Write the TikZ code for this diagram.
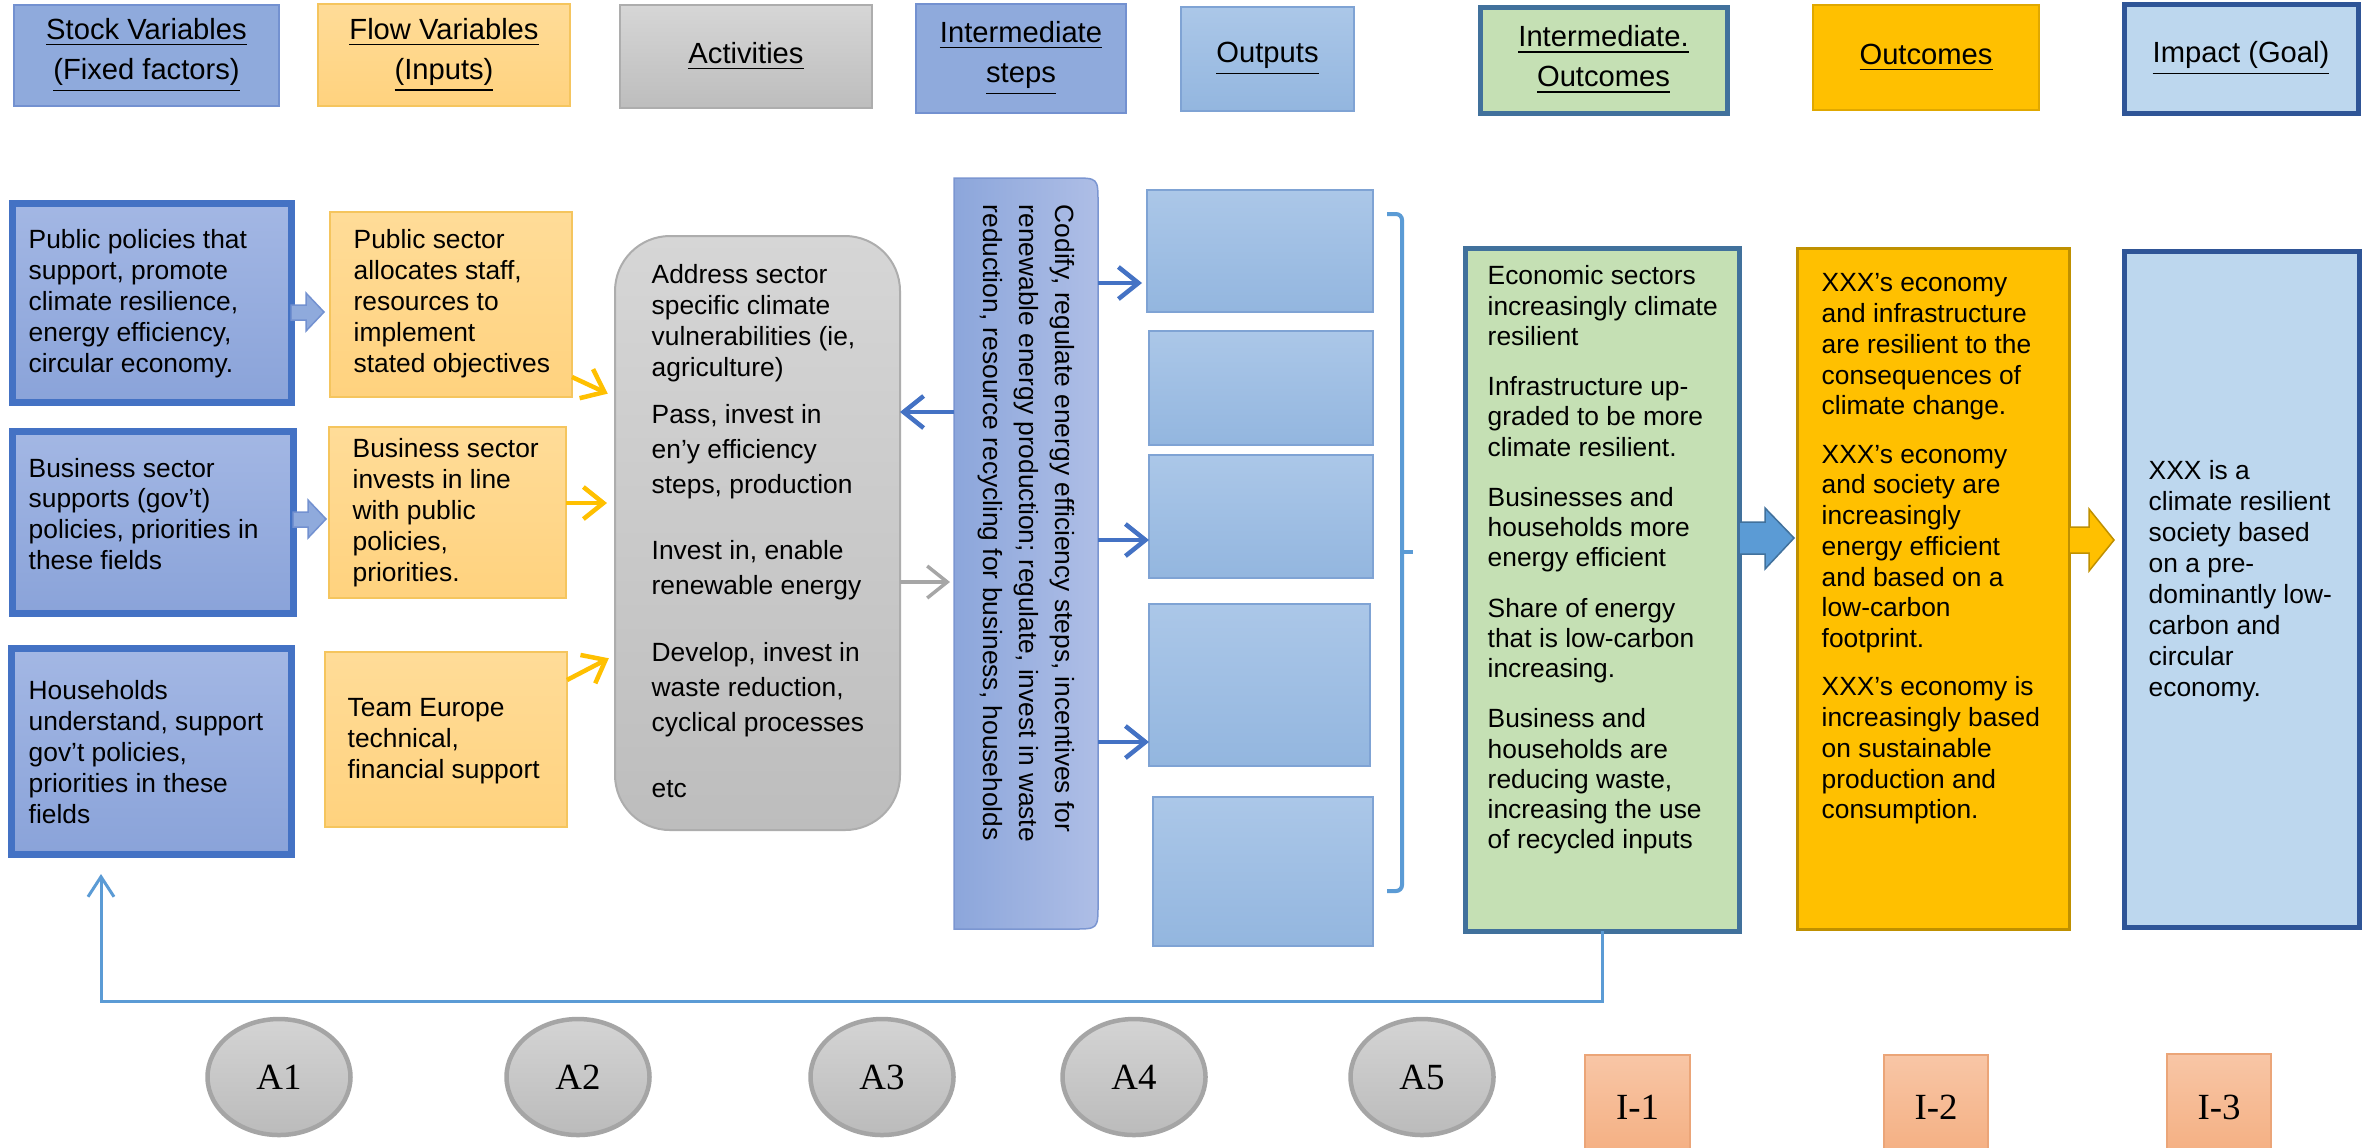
\documentclass[tikz,border=0pt]{standalone}
\usepackage{fontspec}
\setmainfont{Liberation Sans}
\newfontfamily\lblserif{Liberation Serif}
\usetikzlibrary{arrows.meta,fit,shapes.geometric,calc}
\definecolor{stockL}{HTML}{A3B7E4}
\definecolor{stockD}{HTML}{8AA3D9}
\definecolor{stockB}{HTML}{4472C4}
\definecolor{hstock}{HTML}{8FAADC}
\definecolor{hstockB}{HTML}{7391D0}
\definecolor{flowL}{HTML}{FFDC98}
\definecolor{flowD}{HTML}{FFD27E}
\definecolor{flowB}{HTML}{F5C55E}
\definecolor{actL}{HTML}{D6D6D6}
\definecolor{actD}{HTML}{BDBDBD}
\definecolor{actB}{HTML}{ADADAD}
\definecolor{stepsL}{HTML}{8CA6DB}
\definecolor{stepsR}{HTML}{AEBEE6}
\definecolor{stepsB}{HTML}{7B96D1}
\definecolor{outL}{HTML}{ABC7E8}
\definecolor{outD}{HTML}{93B6DF}
\definecolor{outB}{HTML}{7FA3D4}
\definecolor{greenF}{HTML}{C5E0B4}
\definecolor{tealB}{HTML}{41719C}
\definecolor{gold}{HTML}{FFC000}
\definecolor{goldB}{HTML}{BF9000}
\definecolor{goldH}{HTML}{E0A800}
\definecolor{impF}{HTML}{BDD7EE}
\definecolor{impB}{HTML}{2F5597}
\definecolor{arrBlue}{HTML}{4472C4}
\definecolor{arrGray}{HTML}{A6A6A6}
\definecolor{brk}{HTML}{5B9BD5}
\definecolor{ovalL}{HTML}{D4D4D4}
\definecolor{ovalD}{HTML}{BBBBBB}
\definecolor{ovalB}{HTML}{A5A5A5}
\definecolor{iL}{HTML}{F8C6A6}
\definecolor{iD}{HTML}{F4AE80}
\definecolor{iB}{HTML}{EBA578}
\begin{document}
\begin{tikzpicture}[x=0.1mm,y=-0.1mm,
  box/.style={inner sep=0pt, outer sep=0pt},
  hdr/.style={box, line width=0.2mm},
  hdrtxt/.style={inner sep=0pt, align=center, font=\fontsize{8.3}{11.4}\selectfont},
  txt/.style={inner sep=0pt, align=left, font=\fontsize{7.5}{8.8}\selectfont, anchor=west},
  stockbox/.style={box, draw=stockB, line width=0.7mm, top color=stockL, bottom color=stockD},
  flowbox/.style={box, draw=flowB, line width=0.2mm, top color=flowL, bottom color=flowD},
  outbox/.style={box, draw=outB, line width=0.2mm, top color=outL, bottom color=outD},
  blockarr/.style={fill=hstock, draw=hstockB, line width=0.15mm},
  thinarr/.style={line width=0.45mm, -{Straight Barb[length=2mm,width=3.2mm]}},
  yarr/.style={thinarr, draw=gold},
  barr/.style={thinarr, draw=arrBlue},
  garr/.style={thinarr, draw=arrGray, line width=0.35mm},
  fb/.style={draw=brk, line width=0.3mm, -{Straight Barb[length=2mm,width=2.6mm]}},
  bracketline/.style={draw=brk, line width=0.4mm, rounded corners=0.6mm},
  oval/.style={ellipse, draw=ovalB, line width=0.45mm, top color=ovalL, bottom color=ovalD,
    minimum width=14.3mm, minimum height=11.6mm, inner sep=0pt,
    font=\lblserif\fontsize{10.5}{12}\selectfont},
  ibox/.style={box, draw=iB, line width=0.15mm, top color=iL, bottom color=iD},
  itxt/.style={inner sep=0pt, font=\lblserif\fontsize{10.5}{12}\selectfont}
]
\useasboundingbox (0,0) rectangle (2369,1147);
\clip (0,0) rectangle (2369,1147);
\fill[white] (0,0) rectangle (2369,1147);

% ---------- header row ----------
\node[hdr, fill=hstock, draw=hstockB, fit={(14,5)(279,106)}] (hStock) {};
\node[hdrtxt] (hStockt) at (hStock.center) {\underline{Stock Variables}\\\underline{(Fixed factors)}};
\node[hdr, top color=flowL, bottom color=flowD, draw=flowB, fit={(318,4)(570,106)}] (hFlow) {};
\node[hdrtxt] (hFlowt) at (hFlow.center) {\underline{Flow Variables}\\\underline{(Inputs)}};
\node[hdr, top color=actL, bottom color=actD, draw=actB, fit={(620,5)(872,108)}] (hAct) {};
\node[hdrtxt] (hActt) at (hAct.center) {\underline{Activities}};
\node[hdr, fill=hstock, draw=hstockB, fit={(916,4)(1126,113)}] (hSteps) {};
\node[hdrtxt] (hStepst) at (hSteps.center) {\underline{Intermediate}\\\underline{steps}};
\node[hdr, top color=outL, bottom color=outD, draw=outB, fit={(1181,7)(1354,111)}] (hOut) {};
\node[hdrtxt] (hOutt) at (hOut.center) {\underline{Outputs}};
\node[hdr, fill=greenF, draw=tealB, line width=0.5mm, fit={(1480,7)(1727,113)}] (hInter) {};
\node[hdrtxt] (hIntert) at (hInter.center) {\underline{Intermediate.}\\\underline{Outcomes}};
\node[hdr, fill=gold, draw=goldH, fit={(1813,5)(2039,110)}] (hOutc) {};
\node[hdrtxt] (hOutct) at (hOutc.center) {\underline{Outcomes}};
\node[hdr, fill=impF, draw=impB, line width=0.5mm, fit={(2124,4)(2358,113)}] (hImp) {};
\node[hdrtxt] (hImpt) at (hImp.center) {\underline{Impact (Goal)}};

% ---------- stock variables ----------
\node[stockbox, fit={(12,203)(291,402)}] (stock1) {};
\node[txt] (stock1t) at (28,304) {Public policies that\\support, promote\\climate resilience,\\energy efficiency,\\circular economy.};
\node[stockbox, fit={(12,431)(293,613)}] (stock2) {};
\node[txt] (stock2t) at (28,514) {Business sector\\supports (gov’t)\\policies, priorities in\\these fields};
\node[stockbox, fit={(11,648)(291,854)}] (stock3) {};
\node[txt] (stock3t) at (28,752) {Households\\understand, support\\gov’t policies,\\priorities in these\\fields};

% ---------- flow variables ----------
\node[flowbox, fit={(330,212)(572,397)}] (flow1) {};
\node[txt] (flow1t) at (353,304) {Public sector\\allocates staff,\\resources to\\implement\\stated objectives};
\node[flowbox, fit={(329,427)(566,598)}] (flow2) {};
\node[txt] (flow2t) at (352,513) {Business sector\\invests in line\\with public\\policies,\\priorities.};
\node[flowbox, fit={(325,652)(567,827)}] (flow3) {};
\node[txt] (flow3t) at (347,741) {Team Europe\\technical,\\financial support};

% block arrows stock -> flow
\path[blockarr] (291,305) -- (306,305) -- (306,293) -- (324,312) -- (306,331) -- (306,320) -- (291,320) -- cycle;
\path[blockarr] (293,512) -- (308,512) -- (308,500) -- (326,519) -- (308,538) -- (308,527) -- (293,527) -- cycle;

% ---------- activities ----------
\node[box, draw=actB, line width=0.2mm, top color=actL, bottom color=actD, rounded corners=5.5mm,
  fit={(615,236)(900,830)}] (act) {};
\node[txt] (act1) at (651,323.5) {Address sector\\specific climate\\vulnerabilities (ie,\\agriculture)};
\node[txt, font=\fontsize{7.5}{10}\selectfont] (act2) at (651,452) {Pass, invest in\\en’y efficiency\\steps, production};
\node[txt, font=\fontsize{7.5}{10}\selectfont] (act3) at (651,570) {Invest in, enable\\renewable energy};
\node[txt, font=\fontsize{7.5}{10}\selectfont] (act4) at (651,689.5) {Develop, invest in\\waste reduction,\\cyclical processes};
\node[txt] (act5) at (651,789) {etc};

% ---------- intermediate steps ----------
\node[box, fit={(954,178)(1098,929)}] (steps) {};
\path[left color=stepsL, right color=stepsR, draw=stepsB, line width=0.15mm]
  (954,178) -- (1073,178) .. controls (1098,178) .. (1098,203) -- (1098,904)
  .. controls (1098,929) .. (1073,929) -- (954,929) -- cycle;
\node[txt, rotate=-90, font=\fontsize{7.5}{10.2}\selectfont] (stepst) at (1026.5,204)
  {Codify, regulate energy efficiency steps, incentives for\\renewable energy production; regulate, invest in waste\\reduction, resource recycling for business, households};

% ---------- outputs ----------
\node[outbox, fit={(1147,190)(1373,312)}] (out1) {};
\node[outbox, fit={(1149,331)(1373,445)}] (out2) {};
\node[outbox, fit={(1149,455)(1373,578)}] (out3) {};
\node[outbox, fit={(1149,604)(1370,766)}] (out4) {};
\node[outbox, fit={(1153,797)(1373,946)}] (out5) {};
\coordinate (brTop) at (1387,214);
\coordinate (brBot) at (1387,891);
\draw[bracketline] (brTop) -- (1402,214) -- (1402,891) -- (brBot);
\draw[bracketline] (1402,552) -- (1413,552);

% ---------- intermediate outcomes / outcomes / impact ----------
\node[box, fill=greenF, draw=tealB, line width=0.5mm, fit={(1465,248)(1739,931)}] (green) {};
\node[txt, font=\fontsize{7.5}{8.6}\selectfont] (greent) at (1487,560)
  {Economic sectors\\increasingly climate\\resilient\\[5.7pt]Infrastructure up-\\graded to be more\\climate resilient.\\[5.7pt]Businesses and\\households more\\energy efficient\\[5.7pt]Share of energy\\that is low-carbon\\increasing.\\[5.7pt]Business and\\households are\\reducing waste,\\increasing the use\\of recycled inputs};
\node[box, fill=gold, draw=goldB, line width=0.3mm, fit={(1797,248)(2069,929)}] (outc) {};
\node[txt, font=\fontsize{7.5}{8.75}\selectfont] (outct) at (1821,549)
  {XXX’s economy\\and infrastructure\\are resilient to the\\consequences of\\climate change.\\[5pt]XXX’s economy\\and society are\\increasingly\\energy efficient\\and based on a\\low-carbon\\footprint.\\[5pt]XXX’s economy is\\increasingly based\\on sustainable\\production and\\consumption.};
\node[box, fill=impF, draw=impB, line width=0.5mm, fit={(2124,251)(2359,927)}] (imp) {};
\node[txt] (impt) at (2148,581)
  {XXX is a\\climate resilient\\society based\\on a pre-\\dominantly low-\\carbon and\\circular\\economy.};

% fat arrows
\path[fill=brk, draw=tealB, line width=0.15mm]
  (1739,522) -- (1765,522) -- (1765,508) -- (1794,538) -- (1765,569) -- (1765,554) -- (1739,554) -- cycle;
\path[fill=gold, draw=goldB, line width=0.15mm]
  (2069,527) -- (2089,527) -- (2089,509) -- (2114,540) -- (2089,571) -- (2089,553) -- (2069,553) -- cycle;

% ---------- thin connectors ----------
\draw[yarr, shorten >=0.8mm] (flow1.east |- 0,377) -- (act.west |- 0,397);
\draw[yarr, shorten >=0.8mm] (flow2.east |- 0,503) -- (act.west |- 0,503);
\draw[yarr, shorten >=0.7mm] (flow3.east |- 0,680) -- (act.west |- 0,655);
\draw[barr] (steps.west |- 0,412) -- (act.east |- 0,412);
\draw[garr, shorten >=0.4mm] (act.east |- 0,582) -- (steps.west |- 0,582);
\draw[barr, shorten >=0.5mm] (steps.east |- 0,283) -- (out1.west |- 0,283);
\draw[barr] (steps.east |- 0,540) -- (out3.west |- 0,540);
\draw[barr] (steps.east |- 0,742) -- (out4.west |- 0,742);

% feedback loop
\coordinate (fbturn) at (101,1001);
\draw[fb] (green.south) |- (fbturn) -- ($(fbturn |- stock3.south)+(0,20)$);

% ---------- bottom markers ----------
\node[oval] (A1) at (279,1077) {A1};
\node[oval] (A2) at (578,1077) {A2};
\node[oval] (A3) at (882,1077) {A3};
\node[oval] (A4) at (1134,1077) {A4};
\node[oval] (A5) at (1422,1077) {A5};
\node[ibox, fit={(1585,1055)(1690,1160)}] (I1) {};
\node[itxt] (I1t) at (I1.center) {I-1};
\node[ibox, fit={(1884,1055)(1988,1160)}] (I2) {};
\node[itxt] (I2t) at (I2.center) {I-2};
\node[ibox, fit={(2167,1054)(2271,1160)}] (I3) {};
\node[itxt] (I3t) at (I3.center) {I-3};
\end{tikzpicture}
\end{document}
